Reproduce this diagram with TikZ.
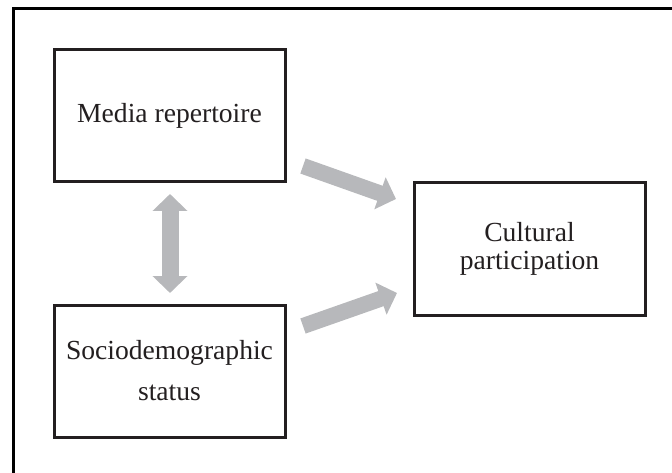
\documentclass[tikz,border=0pt]{standalone}
\usepackage{fontspec}
\setmainfont{Liberation Serif}
\usetikzlibrary{arrows.meta}
\definecolor{arrowgray}{RGB}{183,184,187}
\definecolor{boxline}{RGB}{35,31,32}
\begin{document}
\begin{tikzpicture}[x=1pt,y=-1pt,
  box/.style={draw=boxline,line width=3pt,minimum width=231pt,minimum height=132pt,inner sep=0pt,align=center,text=boxline},
  blockarrow/.style={draw=arrowgray,line width=16pt,-{Triangle[width=33pt,length=17pt]}},
  dblarrow/.style={draw=arrowgray,line width=17pt,{Triangle[width=34pt,length=17pt]}-{Triangle[width=34pt,length=17pt]}}]
\useasboundingbox (0,0) rectangle (672,473);
\draw[line width=3pt,black] (13,474) -- (13,9) -- (673,9);
\node[box,font=\fontsize{27.6}{28}\selectfont] (media) at (169.5,116) {Media repertoire};
\node[box,font=\fontsize{27.6}{41}\selectfont] (socio) at (169.5,371) {Sociodemographic\\status};
\node[box,font=\fontsize{27.6}{28}\selectfont] (cult) at (529.5,249) {Cultural\\participation};
\coordinate (u1) at (303,166);
\coordinate (u2) at (396,199);
\coordinate (l1) at (303,326);
\coordinate (l2) at (397,293);
\coordinate (v1) at (170,194);
\coordinate (v2) at (170,293);
\draw[blockarrow] (u1) -- (u2);
\draw[blockarrow] (l1) -- (l2);
\draw[dblarrow] (v1) -- (v2);
\end{tikzpicture}
\end{document}
